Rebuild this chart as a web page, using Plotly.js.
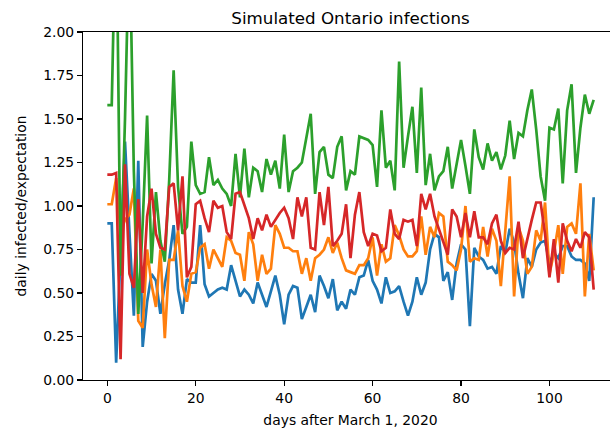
<!DOCTYPE html>
<html>
<head>
<meta charset="utf-8">
<script src="https://cdn.plot.ly/plotly-3.0.1.min.js"></script>
<style>
html, body { margin: 0; padding: 0; overflow: hidden; background: #fff; }
#chart { width: 640px; height: 429px; }
</style>
</head>
<body>
<div id="chart"></div>
<script>
// days after March 1, 2020: 0..110
const days = Array.from({length: 111}, (_, i) => i);

const seriesBlue = [
 0.90,0.90,0.10,0.70,1.37,0.85,0.37,1.26,0.19,0.45,
 0.61,0.57,0.38,0.55,0.69,0.89,0.52,0.38,0.58,0.56,
 0.56,0.89,0.55,0.48,0.50,0.52,0.53,0.52,0.66,0.57,
 0.48,0.52,0.49,0.44,0.56,0.49,0.42,0.51,0.60,0.49,
 0.32,0.49,0.54,0.53,0.35,0.42,0.49,0.39,0.60,0.54,
 0.47,0.58,0.40,0.45,0.41,0.52,0.49,0.59,0.60,0.69,
 0.57,0.52,0.44,0.59,0.50,0.51,0.54,0.45,0.37,0.45,
 0.59,0.49,0.56,0.75,0.84,0.82,0.57,0.62,0.46,0.67,
 0.78,0.75,0.31,0.76,0.71,0.69,0.64,0.65,0.61,0.77,
 0.73,0.87,0.79,0.61,0.47,0.70,0.65,0.75,0.79,0.80,
 0.67,0.73,0.70,0.77,0.77,0.71,0.69,0.69,0.67,0.57,
 1.05
];

const seriesOrange = [
 1.01,1.01,1.16,0.85,0.92,0.95,1.10,0.34,0.30,0.75,
 0.55,0.42,0.75,0.24,0.69,0.69,0.86,0.54,0.45,0.61,
 0.62,0.76,0.78,0.64,0.75,0.70,0.65,0.82,0.80,0.73,
 0.72,0.57,0.85,0.78,0.57,0.72,0.61,0.64,0.89,0.84,
 0.76,0.76,0.74,0.74,0.61,0.70,0.57,0.70,0.72,0.75,
 0.82,0.73,0.79,0.70,0.63,0.62,0.61,0.66,0.66,0.70,
 0.82,0.60,0.78,0.68,0.70,0.89,0.83,0.75,0.71,0.71,
 0.74,0.94,0.72,0.88,0.82,0.96,0.94,0.68,0.66,0.63,
 0.75,1.00,0.68,0.70,0.69,0.88,0.71,0.87,0.80,0.54,
 0.84,1.17,0.48,0.88,0.80,0.61,0.65,0.86,0.80,1.02,
 0.61,0.73,0.89,0.61,0.88,0.90,0.84,1.13,0.48,0.84,
 0.63
];

const seriesGreen = [
 1.58,1.58,2.79,0.60,1.50,2.60,1.20,0.38,0.90,1.52,
 0.67,1.08,0.80,0.68,1.15,1.78,1.11,0.84,0.88,1.37,
 1.12,1.07,1.08,1.28,1.12,1.15,1.10,1.07,1.00,1.30,
 1.05,1.33,1.05,1.22,1.20,1.08,1.27,1.18,1.26,1.10,
 1.41,1.08,1.20,1.22,1.25,1.39,1.53,1.07,1.31,1.34,
 1.18,1.16,1.34,1.40,1.09,1.20,1.18,1.40,1.39,1.38,
 1.35,1.11,1.55,1.22,1.26,1.09,1.83,1.22,1.40,1.57,
 1.19,1.68,1.12,1.30,1.09,1.17,1.20,1.34,1.10,1.24,
 1.38,1.23,1.07,1.44,1.28,1.21,1.36,1.26,1.31,1.21,
 1.29,1.49,1.27,1.42,1.40,1.55,1.67,1.44,1.17,1.03,
 1.45,1.44,1.56,1.13,1.55,1.70,1.19,1.45,1.64,1.53,
 1.61
];

const seriesRed = [
 1.18,1.18,1.19,0.12,1.24,0.61,0.53,1.04,0.50,0.94,
 1.10,0.84,0.76,0.75,1.11,1.13,0.86,1.17,0.59,0.65,
 1.01,1.03,0.93,0.85,1.03,0.99,1.00,0.85,0.81,1.07,
 1.08,1.00,0.93,0.81,0.93,0.86,0.95,0.88,0.92,0.96,
 0.99,0.93,0.81,1.05,0.94,1.05,0.76,0.75,1.08,0.89,
 1.11,0.77,0.80,0.84,1.01,0.70,0.95,1.08,0.85,0.77,
 0.84,0.83,0.74,0.76,0.98,0.84,0.81,0.92,0.91,0.92,
 0.77,1.07,0.98,1.07,0.94,0.87,0.80,0.72,0.98,0.94,
 0.82,0.96,0.82,0.97,0.82,0.82,0.78,0.90,0.95,0.80,
 0.73,0.76,0.75,0.91,0.70,0.82,0.92,1.02,1.02,0.84,
 0.59,0.81,0.56,0.90,0.80,0.74,0.81,0.76,0.85,0.82,
 0.52
];

const seriesList = [
  {y: seriesBlue,   color: '#1f77b4'},
  {y: seriesOrange, color: '#ff7f0e'},
  {y: seriesGreen,  color: '#2ca02c'},
  {y: seriesRed,    color: '#d62728'}
];

const xTicks = [0, 20, 40, 60, 80, 100];
const yTicks = [0, 0.25, 0.5, 0.75, 1.0, 1.25, 1.5, 1.75, 2.0];

const traces = seriesList.map(s => ({
  x: days, y: s.y, type: 'scatter', mode: 'lines',
  line: {color: s.color, width: 2.7}, showlegend: false, hoverinfo: 'skip'
}));

const font = {family: 'DejaVu Sans', size: 13.9, color: '#000'};

const layout = {
  width: 640, height: 429,
  margin: {l: 83, r: 22, t: 32, b: 49, pad: 0},
  paper_bgcolor: '#fff', plot_bgcolor: '#fff',
  font: font,
  showlegend: false,
  title: {
    text: 'Simulated Ontario infections',
    font: {family: 'DejaVu Sans', size: 16.7, color: '#000'},
    x: 0.5, xref: 'paper', xanchor: 'center',
    y: 1, yref: 'paper', yanchor: 'bottom', pad: {b: 8}
  },
  xaxis: {
    range: [-5.5, 115.5], tickvals: xTicks, ticktext: xTicks.map(String),
    showgrid: false, zeroline: false,
    showline: true, mirror: true, linecolor: '#000', linewidth: 1.1,
    ticks: 'outside', ticklen: 5, tickwidth: 1.1, tickcolor: '#000',
    tickfont: font, automargin: false,
    title: {text: 'days after March 1, 2020', font: font, standoff: 10}
  },
  yaxis: {
    range: [0, 2], tickvals: yTicks, ticktext: yTicks.map(v => v.toFixed(2)),
    showgrid: false, zeroline: false,
    showline: true, mirror: true, linecolor: '#000', linewidth: 1.1,
    ticks: 'outside', ticklen: 5, tickwidth: 1.1, tickcolor: '#000',
    tickfont: font, automargin: false,
    title: {text: 'daily infected/expectation', font: font, standoff: 13}
  }
};

Plotly.newPlot('chart', traces, layout, {staticPlot: true, displayModeBar: false});
</script>
</body>
</html>
